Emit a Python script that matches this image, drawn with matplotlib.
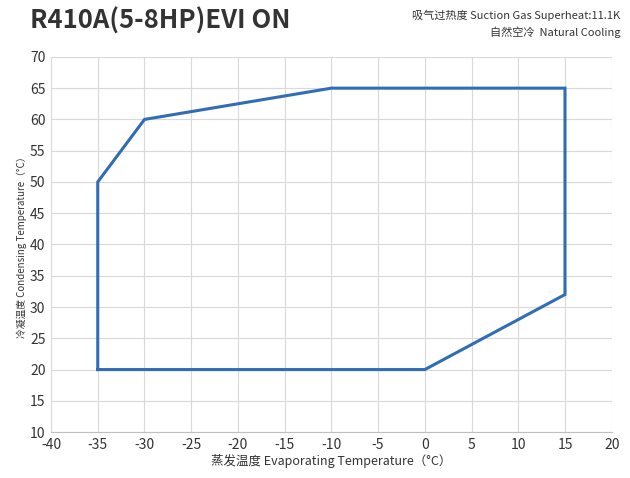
import matplotlib
matplotlib.use('Agg')
import matplotlib.pyplot as plt

plt.rcParams['font.family'] = ['Noto Sans CJK SC', 'DejaVu Sans']
plt.rcParams['axes.unicode_minus'] = False

# envelope points (evaporating, condensing)
evap = [-35, -35, -30, -10, 15, 15, 0, -35]
cond = [20, 50, 60, 65, 65, 32, 20, 20]

x_ticks = list(range(-40, 25, 5))
y_ticks = list(range(10, 75, 5))

fig = plt.figure(figsize=(6.30, 4.78), dpi=100)
ax = fig.add_axes([0.081, 0.096, 0.890, 0.785])

ax.plot(evap, cond, color='#2f6db5', linewidth=2.2, solid_joinstyle='miter')

ax.set_xlim(-40, 20)
ax.set_ylim(10, 70)
ax.set_xticks(x_ticks)
ax.set_yticks(y_ticks)
ax.grid(color='#d9d9d9', linewidth=0.8)
ax.set_axisbelow(True)
for s in ax.spines.values():
    s.set_visible(False)
ax.spines['bottom'].set_visible(True)
ax.spines['bottom'].set_color('#bfbfbf')
ax.tick_params(length=0, labelsize=10, colors='#333333', pad=4)

ax.set_xlabel('蒸发温度 Evaporating Temperature（°C）', fontsize=9, color='#333333', labelpad=2)
ax.set_ylabel('冷凝温度 Condensing Temperature（°C）', fontsize=7, color='#333333', labelpad=2)

fig.text(0.048, 0.955, 'R410A(5-8HP)EVI ON', fontsize=18.5, fontweight='bold',
         color='#333333', va='center', ha='left')
fig.text(0.985, 0.967, '吸气过热度 Suction Gas Superheat:11.1K', fontsize=8,
         color='#333333', va='center', ha='right')
fig.text(0.985, 0.932, '自然空冷  Natural Cooling', fontsize=8,
         color='#333333', va='center', ha='right')

fig.savefig('out.png', dpi=100)
